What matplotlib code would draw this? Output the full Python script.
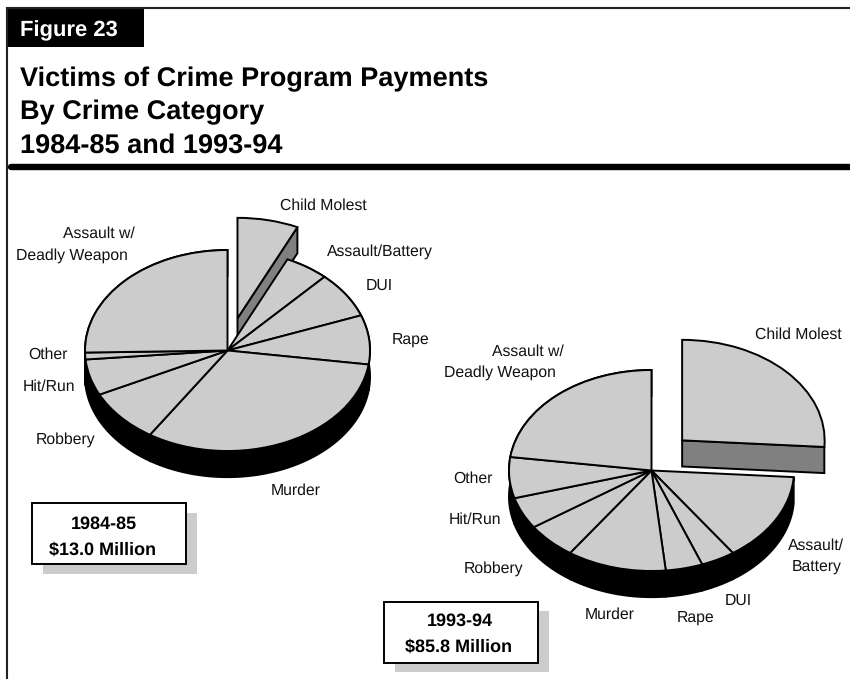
import numpy as np
import matplotlib
matplotlib.use('Agg')
import matplotlib.pyplot as plt
from matplotlib.patches import Polygon, Rectangle

plt.rcParams['font.family'] = ['Liberation Sans', 'DejaVu Sans']
plt.rcParams['text.hinting'] = 'none'

# percent of payments, clockwise from 12 o'clock
categories = ['Child Molest', 'Assault/Battery', 'DUI', 'Rape', 'Murder',
              'Robbery', 'Hit/Run', 'Other', 'Assault w/ Deadly Weapon']
shares_8485 = [6.9, 5.0, 7.4, 7.9, 31.9, 8.6, 5.8, 1.1, 25.3]
shares_9394 = [26.1, 14.3, 3.9, 4.2, 11.3, 5.8, 5.1, 6.6, 22.9]

title_lines = ['Victims of Crime Program Payments', 'By Crime Category',
               '1984-85 and 1993-94']
box_8485 = ['1984-85', '$13.0 Million']
box_9394 = ['1993-94', '$85.8 Million']

W, H = 850, 679
RX, RY = 142.5, 100.5
DEPTH = 0.26
GREY = '#cccccc'
LW = 1.4

fig = plt.figure(figsize=(W / 100, H / 100), dpi=100, facecolor='white')
bg = fig.add_axes([0, 0, 1, 1])
bg.set_xlim(0, W)
bg.set_ylim(H, 0)
bg.axis('off')


def ring_points(angles):
    rad = np.radians(angles)
    return np.cos(rad), np.sin(rad)


def draw_pie(shares, cx, cy, pulled):
    # one unit in the pie axes is RX pixels across and RY pixels down
    span = 1.7
    ax = fig.add_axes([(cx - span * RX) / W, 1 - (cy + span * RY) / H,
                       2 * span * RX / W, 2 * span * RY / H])
    wedges, _ = ax.pie(shares, startangle=90, counterclock=False,
                       wedgeprops=dict(facecolor=GREY, edgecolor='black',
                                       linewidth=LW, joinstyle='miter',
                                       snap=False))
    ax.set_aspect('auto')
    ax.set_xlim(-span, span)
    ax.set_ylim(-span, span)

    # black rim below the slices that stayed in place
    for w in wedges[1:]:
        x, y = ring_points(np.linspace(w.theta1, w.theta2, 80))
        rim = np.r_[np.c_[x, y], np.c_[x, y - DEPTH][::-1]]
        ax.add_patch(Polygon(rim, closed=True, fc='black', ec='black',
                             lw=LW, zorder=0.5, snap=False))

    # pulled slice with its darker cut face
    first = wedges[0]
    first.set_center(pulled)
    first.set_zorder(2)
    x, y = ring_points(first.theta1)
    face = [pulled,
            (pulled[0] + x, pulled[1] + y),
            (pulled[0] + x, pulled[1] + y - DEPTH),
            (pulled[0], pulled[1] - DEPTH)]
    ax.add_patch(Polygon(face, closed=True, fc='#808080', ec='black',
                         lw=LW, zorder=0.8, joinstyle='miter', snap=False))
    return ax


draw_pie(shares_8485, 227.5, 350.5, (0.07, 0.32))
draw_pie(shares_9394, 651.5, 470.5, (0.215, 0.30))

# outer frame and heading
bg.plot([7.5, 7.5, W], [H, 8, 8], color='#222222', lw=1.5,
        solid_joinstyle='miter')
bg.add_patch(Rectangle((7, 9), 137, 38, fc='black', ec='none'))
bg.text(20, 31, 'Figure 23', color='white', fontsize=15.8, fontweight='bold',
        va='center', ha='left')
for line, y in zip(title_lines, [79, 112, 146]):
    bg.text(20, y, line, fontsize=19.5, fontweight='bold', va='center', ha='left')
bg.plot([11, W + 5], [166.5, 166.5], color='black', lw=4.6,
        solid_capstyle='round')

# slice names, 1984-85 pie
labels_8485 = [('Child Molest', 280, 205), ('Assault/Battery', 327, 251),
               ('DUI', 366, 285), ('Rape', 392, 339), ('Murder', 271, 490),
               ('Robbery', 36, 439), ('Hit/Run', 23, 386), ('Other', 28, 354),
               ('Assault w/', 63, 233), ('Deadly Weapon', 16, 255)]
# slice names, 1993-94 pie
labels_9394 = [('Child Molest', 755, 334), ('Assault/', 788, 545),
               ('Battery', 792, 566), ('DUI', 725, 600), ('Rape', 677, 617),
               ('Murder', 585, 614), ('Robbery', 464, 568),
               ('Hit/Run', 449, 519), ('Other', 453, 478),
               ('Assault w/', 492, 351), ('Deadly Weapon', 444, 372)]
for name, x, y in labels_8485 + labels_9394:
    bg.text(x, y + 1, name, fontsize=11.3, va='center', ha='left', color='#111111')


def total_box(x, y, w, h, lines, centers, rows):
    bg.add_patch(Rectangle((x + 11, y + 9.5), w, h, fc=GREY, ec='none'))
    bg.add_patch(Rectangle((x, y), w, h, fc='white', ec='black', lw=1.4))
    for line, tx, ty in zip(lines, centers, rows):
        bg.text(tx, ty, line, fontsize=13, fontweight='bold', va='center',
                ha='center')


total_box(32, 503, 154, 61, box_8485, [104, 102.5], [524, 550])
total_box(384.5, 601.5, 154, 61, box_9394, [459.5, 459], [621, 647])

fig.savefig('out.png', dpi=100)
